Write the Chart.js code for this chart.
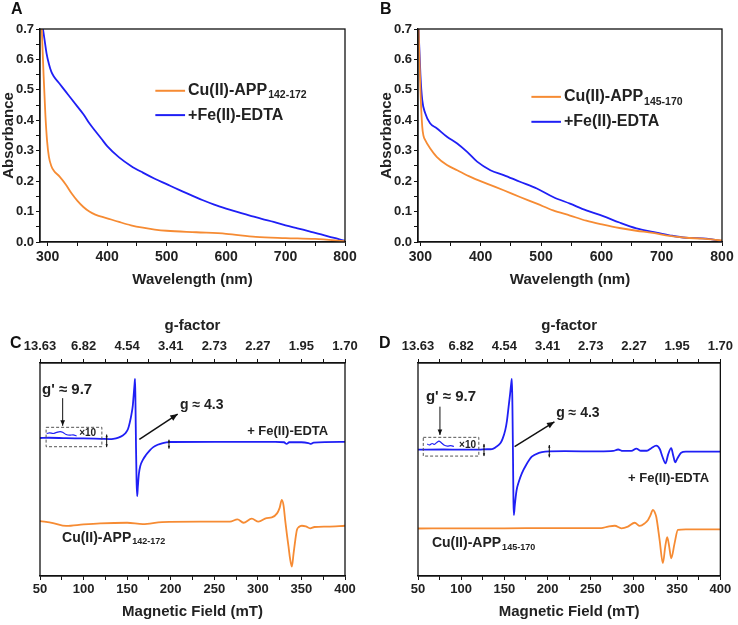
<!DOCTYPE html>
<html>
<head>
<meta charset="utf-8">
<script src="https://cdn.jsdelivr.net/npm/chart.js@4.4.0/dist/chart.umd.min.js"></script>
<style>
body{margin:0;background:#fff;width:738px;height:625px;position:relative;overflow:hidden;font-family:"Liberation Sans",Arial,sans-serif;}
.panel{position:absolute;}
.tag{position:absolute;font-weight:bold;font-size:16px;color:#111;}
</style>
</head>
<body>
<div class="panel" style="left:0;top:0;width:369px;height:300px"><canvas id="chartA"></canvas></div>
<div class="panel" style="left:369px;top:0;width:369px;height:300px"><canvas id="chartB"></canvas></div>
<div class="panel" style="left:0;top:300px;width:369px;height:325px"><canvas id="chartC"></canvas></div>
<div class="panel" style="left:369px;top:300px;width:369px;height:325px"><canvas id="chartD"></canvas></div>
<div class="tag" style="left:11px;top:0px">A</div>
<div class="tag" style="left:380px;top:0px">B</div>
<div class="tag" style="left:10px;top:334px">C</div>
<div class="tag" style="left:379px;top:334px">D</div>
<script>
const ORANGE = '#F68B33';
const BLUE = '#1F1FF5';

// tick labels
const wlTicks = [300, 400, 500, 600, 700, 800];
const absTicks = [0, 0.1, 0.2, 0.3, 0.4, 0.5, 0.6, 0.7];
const fieldTicks = [50, 100, 150, 200, 250, 300, 350, 400];
const gLabels = ['13.63', '6.82', '4.54', '3.41', '2.73', '2.27', '1.95', '1.70'];

// A: UV-vis, APP142-172
const wlCuA  = [290,293,296,299,302,306,310,320,330,340,350,360,370,380,400,420,440,460,480,500,550,600,650,700,750,800];
const absCuA = [0.70,0.55,0.42,0.33,0.28,0.25,0.235,0.215,0.19,0.16,0.135,0.115,0.10,0.09,0.078,0.066,0.055,0.047,0.041,0.037,0.032,0.027,0.017,0.013,0.010,0.003];
const wlFeA  = [292,295,298,302,306,310,320,330,340,350,360,370,380,390,400,420,440,460,480,500,520,540,560,580,600,620,640,660,680,700,720,740,760,780,800];
const absFeA = [0.70,0.66,0.62,0.585,0.56,0.545,0.52,0.495,0.47,0.445,0.42,0.39,0.365,0.34,0.315,0.278,0.25,0.228,0.208,0.19,0.172,0.155,0.138,0.123,0.11,0.098,0.087,0.076,0.066,0.055,0.045,0.035,0.025,0.014,0.004];

// B: UV-vis, APP145-170
const wlCuB  = [297,300,303,305,308,316,327,344,361,383,410,438,465,493,520,548,575,603,630,658,685,713,740,768,800];
const absCuB = [0.70,0.50,0.38,0.35,0.335,0.308,0.28,0.253,0.236,0.214,0.192,0.17,0.148,0.126,0.104,0.087,0.07,0.057,0.046,0.037,0.03,0.02,0.014,0.011,0.005];
const wlFeB  = [297,300,303,308,316,327,344,361,377,394,416,438,465,493,520,548,575,603,630,658,685,713,740,757,774,800];
const absFeB = [0.70,0.55,0.467,0.423,0.39,0.374,0.346,0.324,0.297,0.264,0.236,0.22,0.198,0.176,0.148,0.126,0.104,0.085,0.064,0.045,0.033,0.022,0.014,0.013,0.011,0.003];

// C: EPR, APP142-172 (relative intensity)
const fieldFeC  = [50,60,80,100,120,130,134,140,145,148,151,153,155,156.5,157.5,158.5,159.1,159.6,160.2,160.8,161.5,162.3,163.5,165,168,172,176,180,185,190,195,200,250,300,320,330,333,336,350,358,361,364,400];
const signalFeC = [64.8,64.9,64.7,64.6,64.4,64.3,64.4,65.0,66.0,67.0,69.0,72,76,80,85,90,92.5,80,60,45,37.5,42,48,51.5,54.5,57,59,60.5,61.6,62.3,62.7,62.9,63.0,63.0,63.0,62.8,62.0,62.8,62.8,62.4,62.0,62.6,63.0];
const fieldInsetC  = [57.7,61,65,69,73,76,80,84,88,92];
const signalInsetC = [66.9,67.2,66.9,67.4,67.8,67.5,66.4,66.1,66.3,65.7];
const fieldCuC  = [50,65,80,100,119,150,168,190,234,268,276.6,283.5,293,300.7,310,316,322,325,327.5,329.5,331.4,333.5,335.2,337,339,341,343,344.8,347,350.5,355,360,365,380,400];
const signalCuC = [25.8,24.8,23.5,24.2,24.7,25.0,24.4,25.3,25.5,25.5,26.6,25.0,26.9,25.5,27.2,27.5,29.4,32,35.7,33,26,19,13.8,8,4.4,10.6,17,21.6,23,23.6,23.3,22.4,23.0,23.2,23.6];

// D: EPR, APP145-170
const fieldFeD  = [50,80,100,120,130,135.7,140,145.3,148,151,153,154.9,156.5,157.8,158.7,159.3,160,160.5,161,162,164,166.5,170.2,175,181.7,190,197.2,220,260,276,281.7,287,297,302.8,308,315,320,325.8,330,333,336.6,339.5,343.1,345.5,347.7,350,354.6,360,400];
const signalFeD = [59.3,59.4,59.3,59.3,59.5,59.6,60.5,62.3,64.5,68.5,73,79.5,85,90,92.5,80,55,35,28.6,33,40,44,48.2,52,56,57.8,58.4,58.6,58.5,58.7,59.4,58.7,58.7,59.8,58.8,58.8,60,61.2,59.5,56,52.9,57,60,56.5,53.4,55,57.9,58.4,58.4];
const fieldInsetD  = [60.7,63,66.5,69,72,74.2,77,80,84,88,91.5];
const signalInsetD = [62.0,61.5,62.2,61.8,62.8,63.3,62.6,61.5,61.0,61.2,60.8];
const fieldCuD  = [50,100,150,200,262,270,277.8,285.5,293,300.9,306.7,312.4,316.3,319,322,324,325.8,329.7,333.5,336.2,338.5,340.8,343.1,347,350.8,360,400];
const signalCuD = [22.3,22.4,22.4,22.5,22.5,23.2,23.6,22.4,23.2,25.0,23.5,24.7,26.3,28.5,31.0,30,27.8,16.9,6.0,13.8,18.2,13.8,8.3,15.3,21.6,21.9,21.9];

function pts(xs, ys){ return xs.map((x, i) => ({x: x, y: ys[i]})); }

function line(label, xs, ys, color, w){
  return {label: label, data: pts(xs, ys), borderColor: color, borderWidth: w || 1.8,
          pointRadius: 0, fill: false, cubicInterpolationMode: 'monotone'};
}

// major ticks plus one minor tick half way
function withMinor(majors){
  return function(axis){
    let t = [];
    majors.forEach((v, i) => {
      t.push({value: v});
      if(i < majors.length - 1) t.push({value: (v + majors[i+1]) / 2});
    });
    axis.ticks = t;
  };
}

// frame, legend, arrows and labels
const notes = {
  id: 'notes',
  afterDatasetsDraw(chart, args, opts){
    const {ctx, chartArea: a, scales} = chart;
    const X = v => scales.x.getPixelForValue(v), Y = v => scales.y.getPixelForValue(v);
    ctx.save();
    ctx.strokeStyle = '#111'; ctx.lineWidth = 1.3;
    ctx.strokeRect(a.left, a.top, a.width, a.height);
    (opts.items || []).forEach(it => {
      ctx.setLineDash([]);
      if(it.t === 'text'){
        ctx.fillStyle = it.color || '#222';
        ctx.textBaseline = 'middle'; ctx.textAlign = 'left';
        ctx.font = 'bold ' + it.size + 'px "Liberation Sans", Arial, sans-serif';
        let x = X(it.x), y = Y(it.y);
        ctx.fillText(it.text, x, y);
        if(it.sub){
          let w = ctx.measureText(it.text).width;
          ctx.font = 'bold ' + it.subSize + 'px "Liberation Sans", Arial, sans-serif';
          ctx.fillText(it.sub, x + w + 1, y + it.size * 0.3);
        }
      } else if(it.t === 'key'){
        ctx.strokeStyle = it.color; ctx.lineWidth = 2;
        ctx.beginPath(); ctx.moveTo(X(it.x1), Y(it.y)); ctx.lineTo(X(it.x2), Y(it.y)); ctx.stroke();
      } else if(it.t === 'box'){
        ctx.strokeStyle = '#555'; ctx.lineWidth = 1; ctx.setLineDash([3, 2]);
        ctx.strokeRect(X(it.x1), Y(it.y2), X(it.x2) - X(it.x1), Y(it.y1) - Y(it.y2));
      } else if(it.t === 'arrow'){
        let x1 = X(it.x1), y1 = Y(it.y1), x2 = X(it.x2), y2 = Y(it.y2);
        ctx.strokeStyle = '#111'; ctx.fillStyle = '#111'; ctx.lineWidth = it.w || 1.2;
        ctx.beginPath(); ctx.moveTo(x1, y1); ctx.lineTo(x2, y2); ctx.stroke();
        const head = (px, py, qx, qy) => {
          let ang = Math.atan2(py - qy, px - qx), L = it.head || 7;
          ctx.beginPath(); ctx.moveTo(px, py);
          ctx.lineTo(px - L * Math.cos(ang - 0.4), py - L * Math.sin(ang - 0.4));
          ctx.lineTo(px - L * Math.cos(ang + 0.4), py - L * Math.sin(ang + 0.4));
          ctx.closePath(); ctx.fill();
        };
        head(x2, y2, x1, y1);
        if(it.both) head(x1, y1, x2, y2);
      }
    });
    ctx.restore();
  }
};

Chart.defaults.font.family = '"Liberation Sans", Arial, sans-serif';
Chart.defaults.color = '#222';

function uvScales(xmin, padBottom){
  return {
    x: {type: 'linear', min: xmin, max: 800,
        afterBuildTicks: withMinor(wlTicks),
        afterFit: s => { s.height = 58; },
        ticks: {autoSkip: false, maxRotation: 0, padding: 3, color: '#222', font: {size: 14, weight: 'bold'},
                callback: (v, i) => i % 2 === 0 ? String(v) : ''},
        grid: {drawOnChartArea: false, tickLength: 4, tickColor: '#111'},
        border: {color: '#111', width: 1.3},
        title: {display: true, text: 'Wavelength (nm)', color: '#222', font: {size: 15, weight: 'bold'}, padding: {top: 0, bottom: padBottom}}},
    y: {type: 'linear', min: 0, max: 0.7,
        afterBuildTicks: withMinor(absTicks),
        afterFit: s => { s.width = 40; },
        ticks: {autoSkip: false, padding: 2, color: '#222', font: {size: 13, weight: 'bold'},
                callback: (v, i) => i % 2 === 0 ? v.toFixed(1) : ''},
        grid: {drawOnChartArea: false, tickLength: 4, tickColor: '#111'},
        border: {color: '#111', width: 1.3},
        title: {display: true, text: 'Absorbance', color: '#222', font: {size: 15, weight: 'bold'}, padding: 0}}
  };
}

function eprScales(){
  return {
    x: {type: 'linear', min: 50, max: 400,
        afterBuildTicks: withMinor(fieldTicks),
        afterFit: s => { s.height = 49; },
        ticks: {autoSkip: false, maxRotation: 0, padding: 2, color: '#222', font: {size: 13, weight: 'bold'},
                callback: (v, i) => i % 2 === 0 ? String(v) : ''},
        grid: {drawOnChartArea: false, tickLength: 4, tickColor: '#111'},
        border: {color: '#111', width: 1.3},
        title: {display: true, text: 'Magnetic Field (mT)', color: '#222', font: {size: 15, weight: 'bold'}, padding: {top: 0, bottom: 4}}},
    gx: {type: 'linear', position: 'top', min: 50, max: 400,
        afterBuildTicks: withMinor(fieldTicks),
        afterFit: s => { s.height = 63; },
        ticks: {autoSkip: false, maxRotation: 0, padding: 5, color: '#222', font: {size: 13, weight: 'bold'},
                callback: (v, i) => i % 2 === 0 ? gLabels[i / 2] : ''},
        grid: {drawOnChartArea: false, tickLength: 4, tickColor: '#111'},
        border: {color: '#111', width: 1.3},
        title: {display: true, text: 'g-factor', color: '#222', font: {size: 15, weight: 'bold'}, padding: {top: 17, bottom: 0}}},
    y: {display: false, min: 0, max: 100}
  };
}

function makeChart(id, datasets, scales, pad, items){
  return new Chart(document.getElementById(id), {
    type: 'line',
    data: {datasets: datasets},
    options: {
      responsive: true, maintainAspectRatio: false, animation: false,
      layout: {padding: pad},
      scales: scales,
      plugins: {legend: {display: false}, tooltip: {enabled: false}, notes: {items: items}}
    },
    plugins: [notes]
  });
}

makeChart('chartA',
  [line('Cu(II)-APP142-172', wlCuA, absCuA, ORANGE), line('+Fe(II)-EDTA', wlFeA, absFeA, BLUE)],
  uvScales(287, 11), {left: 0, top: 29, right: 24, bottom: 0},
  [{t: 'key', x1: 481, x2: 531, y: 0.497, color: ORANGE},
   {t: 'text', x: 536, y: 0.497, text: 'Cu(II)-APP', sub: '142-172', size: 16, subSize: 10.5},
   {t: 'key', x1: 481, x2: 531, y: 0.417, color: BLUE},
   {t: 'text', x: 536, y: 0.417, text: '+Fe(II)-EDTA', size: 16}]);

makeChart('chartB',
  [line('Cu(II)-APP145-170', wlCuB, absCuB, ORANGE), line('+Fe(II)-EDTA', wlFeB, absFeB, BLUE)],
  uvScales(296, 11), {left: 9, top: 29, right: 16, bottom: 0},
  [{t: 'key', x1: 484, x2: 533, y: 0.477, color: ORANGE},
   {t: 'text', x: 538, y: 0.477, text: 'Cu(II)-APP', sub: '145-170', size: 16, subSize: 10.5},
   {t: 'key', x1: 484, x2: 533, y: 0.395, color: BLUE},
   {t: 'text', x: 538, y: 0.395, text: '+Fe(II)-EDTA', size: 16}]);

makeChart('chartC',
  [line('+ Fe(II)-EDTA', fieldFeC, signalFeC, BLUE, 1.8),
   line('x10', fieldInsetC, signalInsetC, BLUE, 1.2),
   line('Cu(II)-APP142-172', fieldCuC, signalCuC, ORANGE, 1.8)],
  eprScales(), {left: 40, top: 0, right: 24, bottom: 0},
  [{t: 'text', x: 52.3, y: 87.5, text: "g' \u2248 9.7", size: 15},
   {t: 'arrow', x1: 76, y1: 83.5, x2: 76, y2: 70.5, head: 6, w: 1},
   {t: 'box', x1: 57, x2: 121, y1: 60.7, y2: 69.8},
   {t: 'text', x: 95, y: 66.8, text: '\u00d710', size: 10},
   {t: 'arrow', x1: 126.5, y1: 66.4, x2: 126.5, y2: 60.5, head: 3, both: true, w: 1},
   {t: 'arrow', x1: 198, y1: 64, x2: 198, y2: 59.8, head: 3, both: true, w: 1},
   {t: 'arrow', x1: 164, y1: 64.2, x2: 208, y2: 76, head: 8, w: 1.5},
   {t: 'text', x: 210.7, y: 80.3, text: 'g \u2248 4.3', size: 14},
   {t: 'text', x: 287.7, y: 67.7, text: '+ Fe(II)-EDTA', size: 13},
   {t: 'text', x: 75.3, y: 18, text: 'Cu(II)-APP', sub: '142-172', size: 14, subSize: 9}]);

makeChart('chartD',
  [line('+ Fe(II)-EDTA', fieldFeD, signalFeD, BLUE, 1.8),
   line('x10', fieldInsetD, signalInsetD, BLUE, 1.2),
   line('Cu(II)-APP145-170', fieldCuD, signalCuD, ORANGE, 1.8)],
  eprScales(), {left: 49, top: 0, right: 16, bottom: 0},
  [{t: 'text', x: 59.2, y: 84.2, text: "g' \u2248 9.7", size: 15},
   {t: 'arrow', x1: 75.4, y1: 79.5, x2: 75.4, y2: 66.2, head: 6, w: 1},
   {t: 'box', x1: 56.1, x2: 120.4, y1: 56.3, y2: 65.1},
   {t: 'text', x: 97.6, y: 61.5, text: '\u00d710', size: 10},
   {t: 'arrow', x1: 126.4, y1: 62, x2: 126.4, y2: 56.3, head: 3, both: true, w: 1},
   {t: 'arrow', x1: 202, y1: 61.5, x2: 202, y2: 55.7, head: 3, both: true, w: 1},
   {t: 'arrow', x1: 161.8, y1: 60.7, x2: 207.9, y2: 72.4, head: 8, w: 1.5},
   {t: 'text', x: 209.9, y: 76.4, text: 'g \u2248 4.3', size: 14},
   {t: 'text', x: 293.2, y: 46, text: '+ Fe(II)-EDTA', size: 13},
   {t: 'text', x: 66.1, y: 15.5, text: 'Cu(II)-APP', sub: '145-170', size: 14, subSize: 9}]);
</script>
</body>
</html>
